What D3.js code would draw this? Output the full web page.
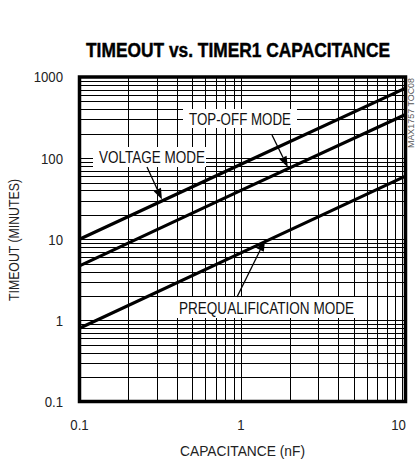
<!DOCTYPE html>
<html><head><meta charset="utf-8">
<script src="https://cdn.jsdelivr.net/npm/d3@7"></script>
<style>body{margin:0;background:#fff}svg{display:block}</style>
</head><body>
<script>
// ---- data ----
const capacitance = [0.1, 1, 10.44];           // nF
const voltageMode = [10, 84, 730];              // minutes
const topOffMode = [4.7, 40, 345];
const prequalMode = [0.8, 6.8, 60];
const xTickLabels = ["0.1", "1", "10"];
const yTickLabels = ["0.1", "1", "10", "100", "1000"];
const seriesNames = ["VOLTAGE MODE", "TOP-OFF MODE", "PREQUALIFICATION MODE"];
const arrowTipCap = [0.324, 1.95, 1.41];

const W = 416, H = 460;
const svg = d3.select("body").append("svg").attr("width", W).attr("height", H);
const font = "'Liberation Sans',Arial,sans-serif";

const x = d3.scaleLog().domain([0.1, 10.44]).range([79.5, 405.5]);
const y = d3.scaleLog().domain([0.1, 1000]).range([401.5, 77]);

function condense(sel, ratio) {
  sel.each(function () {
    const w = this.getComputedTextLength();
    d3.select(this).attr("textLength", w * ratio).attr("lengthAdjust", "spacingAndGlyphs");
  });
}

// grid
const xt = x.ticks().filter(v => v <= 10.0001);
const yt = y.ticks();
const g = svg.append("g");
g.selectAll(".gx").data(xt).join("line")
  .attr("x1", d => Math.round(x(d)) + 0.5).attr("x2", d => Math.round(x(d)) + 0.5)
  .attr("y1", y.range()[0]).attr("y2", y.range()[1])
  .attr("stroke", "#000").attr("stroke-width", 1);
g.selectAll(".gy").data(yt).join("line")
  .attr("y1", d => Math.round(y(d)) + 0.5).attr("y2", d => Math.round(y(d)) + 0.5)
  .attr("x1", x.range()[0]).attr("x2", x.range()[1])
  .attr("stroke", "#000").attr("stroke-width", 1);

// series
const seriesVals = [voltageMode, topOffMode, prequalMode];
const line = d3.line().x(d => x(d[0])).y(d => y(d[1]));
seriesVals.forEach(vals => {
  svg.append("path").datum(capacitance.map((c, i) => [c, vals[i]]))
    .attr("d", line).attr("fill", "none").attr("stroke", "#000").attr("stroke-width", 3.2);
});

function valAt(vals, c) {
  const lc = Math.log10(c);
  for (let i = 0; i < capacitance.length - 1; i++) {
    const a = Math.log10(capacitance[i]), b = Math.log10(capacitance[i + 1]);
    if (lc >= a && lc <= b) {
      const t = (lc - a) / (b - a);
      return Math.pow(10, Math.log10(vals[i]) + t * (Math.log10(vals[i + 1]) - Math.log10(vals[i])));
    }
  }
  return vals[0];
}

// labels with white boxes
const labelBoxes = [
  {x0: 93, x1: 206, y0: 147, y1: 167, tx: 99, tw: 106, by: 163, tail: [147, 167]},
  {x0: 183, x1: 297, y0: 109, y1: 128, tx: 189, tw: 102, by: 125, tail: [272, 135]},
  {x0: 173, x1: 357, y0: 297, y1: 318, tx: 179, tw: 175, by: 314, tail: [237, 297]}
];
labelBoxes.forEach((b, i) => {
  svg.append("rect").attr("x", b.x0).attr("y", b.y0).attr("width", b.x1 - b.x0).attr("height", b.y1 - b.y0)
    .attr("fill", "#fff");
  svg.append("text").attr("x", b.tx).attr("y", b.by).text(seriesNames[i])
    .attr("font-family", font).attr("font-size", 17).attr("fill", "#111")
    .attr("textLength", b.tw).attr("lengthAdjust", "spacingAndGlyphs");
  const c = arrowTipCap[i];
  const tip = [x(c), y(valAt(seriesVals[i], c)) - 1.5];
  const tail = b.tail;
  const dx = tip[0] - tail[0], dy = tip[1] - tail[1];
  const L = Math.hypot(dx, dy), ux = dx / L, uy = dy / L;
  const hl = 11, hw = 4;
  const bx = tip[0] - ux * hl, by = tip[1] - uy * hl;
  svg.append("line").attr("x1", tail[0]).attr("y1", tail[1]).attr("x2", bx).attr("y2", by)
    .attr("stroke", "#000").attr("stroke-width", 1.3);
  svg.append("path").attr("d", `M${tip[0]},${tip[1]}L${bx - uy * hw},${by + ux * hw}L${bx + uy * hw},${by - ux * hw}Z`)
    .attr("fill", "#000");
});

// frame
svg.append("rect").attr("x", x.range()[0]).attr("y", y.range()[1])
  .attr("width", x.range()[1] - x.range()[0]).attr("height", y.range()[0] - y.range()[1])
  .attr("fill", "none").attr("stroke", "#000").attr("stroke-width", 3.5);

// tick labels
const yTickVals = yTickLabels.map(Number);
svg.selectAll(".yl").data(yTickVals).join("text")
  .attr("x", 63).attr("y", d => y(d)).attr("dy", "0.36em")
  .attr("text-anchor", "end").attr("font-family", font).attr("font-size", 15).attr("fill", "#222")
  .text((d, i) => yTickLabels[i]).call(condense, 0.88);
const xTickVals = xTickLabels.map(Number);
svg.selectAll(".xl").data(xTickVals).join("text")
  .attr("x", (d, i) => x(d) - (i === 2 ? 4 : 0)).attr("y", 430)
  .attr("text-anchor", "middle").attr("font-family", font).attr("font-size", 15).attr("fill", "#222")
  .text((d, i) => xTickLabels[i]).call(condense, 0.88);

// axis titles
svg.append("text").attr("x", 242.5).attr("y", 456).attr("text-anchor", "middle")
  .attr("font-family", font).attr("font-size", 15).attr("fill", "#222")
  .attr("textLength", 125).attr("lengthAdjust", "spacingAndGlyphs")
  .text("CAPACITANCE (nF)");
svg.append("text").attr("transform", "translate(19,240) rotate(-90)").attr("text-anchor", "middle")
  .attr("font-family", font).attr("font-size", 15).attr("fill", "#222")
  .attr("textLength", 122).attr("lengthAdjust", "spacingAndGlyphs")
  .text("TIMEOUT (MINUTES)");

// title
svg.append("text").attr("transform", "translate(238,56.5) scale(1,1.1)").attr("text-anchor", "middle")
  .attr("font-family", font).attr("font-size", 18.5).attr("font-weight", "bold").attr("fill", "#000")
  .attr("stroke", "#000").attr("stroke-width", 0.4)
  .attr("textLength", 304).attr("lengthAdjust", "spacingAndGlyphs")
  .text("TIMEOUT vs. TIMER1 CAPACITANCE");

// side code
svg.append("text").attr("transform", "translate(414,113) rotate(-90)").attr("text-anchor", "middle")
  .attr("font-family", font).attr("font-size", 9).attr("fill", "#555")
  .attr("textLength", 70).attr("lengthAdjust", "spacingAndGlyphs")
  .text("MAX1757 TOC08");
</script>
</body></html>
